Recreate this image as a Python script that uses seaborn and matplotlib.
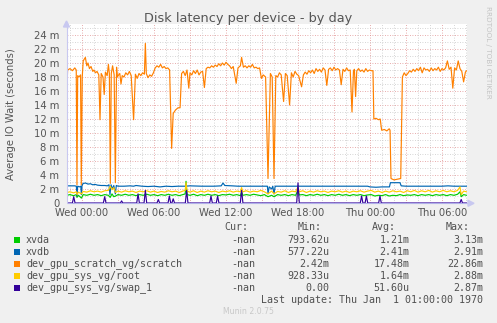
import numpy as np
import pandas as pd
import matplotlib
matplotlib.use("Agg")
import matplotlib.pyplot as plt
from matplotlib.patches import Rectangle
import seaborn as sns

# ---------------- data (hours relative to Wed 00:00, values in ms) -------------
scratch_t = [-1.25, -1.2, -1.0, -0.8, -0.6, -0.48, -0.42, -0.36, -0.25, -0.12, -0.06, 0.02, 0.1, 0.28, 0.4,
             0.5, 0.62, 0.75, 0.9, 1.0, 1.12, 1.25, 1.4, 1.5, 1.6, 1.75, 1.85, 1.95, 2.1, 2.2, 2.28, 2.36,
             2.44, 2.55, 2.68, 2.78, 2.88, 2.95, 3.05, 3.15, 3.25, 3.35, 3.5, 3.65, 3.8, 3.95, 4.1, 4.3,
             4.45, 4.6, 4.75, 4.9, 5.05, 5.2, 5.28, 5.36, 5.5, 5.65, 5.8, 5.95, 6.1, 6.25, 6.4, 6.55,
             6.7, 6.85, 7.0, 7.15, 7.3, 7.47, 7.6, 7.8, 8.0, 8.17, 8.3, 8.45, 8.6, 8.75, 8.9, 9.0, 9.15,
             9.3, 9.45, 9.6, 9.75, 9.9, 10.05, 10.2, 10.35, 10.5, 10.65, 10.8, 10.95, 11.1, 11.25, 11.4,
             11.55, 11.7, 11.85, 12.0, 12.15, 12.3, 12.45, 12.6, 12.85, 13.0, 13.2, 13.3, 13.45, 13.6,
             13.75, 13.9, 14.05, 14.2, 14.35, 14.5, 14.65, 14.8, 14.95, 15.1, 15.3, 15.5, 15.7, 15.85,
             16.0, 16.15, 16.3, 16.45, 16.6, 16.8, 16.95, 17.1, 17.3, 17.45, 17.6, 17.75, 17.9, 18.05,
             18.3, 18.45, 18.6, 18.75, 18.9, 19.05, 19.2, 19.35, 19.5, 19.65, 19.8, 19.95, 20.1, 20.25,
             20.4, 20.55, 20.7, 20.85, 21.0, 21.15, 21.3, 21.45, 21.6, 21.75, 21.9, 22.05, 22.2, 22.35,
             22.5, 22.62, 22.7, 22.8, 22.9, 23.05, 23.2, 23.35, 23.5, 23.65, 23.8, 23.95, 24.1, 24.25,
             24.32, 24.5, 24.7, 24.85, 24.97, 25.2, 25.4, 25.6, 25.67, 25.75, 26.0, 26.3, 26.56, 26.7,
             26.85, 27.0, 27.15, 27.3, 27.45, 27.6, 27.75, 27.9, 28.05, 28.2, 28.35, 28.5, 28.65, 28.8,
             28.95, 29.1, 29.25, 29.4, 29.55, 29.7, 29.85, 30.0, 30.15, 30.3, 30.45, 30.6, 30.75, 30.9,
             31.05, 31.2, 31.35, 31.5, 31.65, 31.8, 31.95, 32.05]
scratch_v = [16.5, 19.0, 19.2, 18.9, 19.3, 19.0, 2.6, 18.2, 18.0, 18.3, 2.6, 18.0, 20.3, 20.8, 19.6,
             20.0, 19.2, 19.5, 18.8, 19.0, 18.6, 18.8, 18.3, 11.9, 18.5, 18.0, 15.5, 18.7, 18.2, 19.8, 18.5, 2.8,
             18.5, 19.6, 18.3, 2.9, 19.4, 18.0, 18.3, 18.5, 17.0, 18.2, 18.0, 18.6, 18.3, 18.8, 18.2, 11.9,
             18.4, 17.8, 18.5, 18.2, 18.6, 18.4, 22.8, 18.5, 17.9, 18.3, 18.1, 18.6, 19.3, 19.6, 19.4, 19.8,
             19.3, 19.5, 19.2, 19.3, 19.0, 7.8, 12.8, 13.3, 13.6, 13.6, 18.5, 18.8, 18.2, 19.0, 16.4, 18.6, 18.3,
             18.9, 18.5, 19.0, 18.3, 18.7, 18.8, 16.5, 19.2, 19.4, 19.3, 19.6, 19.4, 19.7, 19.5, 19.9,
             19.6, 20.0, 19.7, 20.1, 19.8, 19.6, 19.2, 19.5, 17.1, 19.3, 19.6, 20.8, 19.4, 19.6,
             19.3, 19.6, 19.4, 19.8, 19.3, 19.4, 19.2, 19.3, 17.8, 18.3, 18.0, 3.5, 18.5, 18.0,
             3.5, 18.2, 18.0, 18.6, 18.3, 14.5, 18.5, 18.2, 14.0, 18.6, 18.0, 18.8, 18.4, 18.2,
             16.6, 18.3, 18.7, 18.4, 18.9, 18.6, 19.0, 18.5, 19.2, 18.8, 19.1, 18.7, 19.3, 19.0,
             16.8, 19.1, 19.3, 18.9, 19.4, 19.0, 19.2, 19.0, 16.9, 19.1, 18.8, 19.3, 18.9, 19.0,
             13.0, 18.8, 19.1, 15.2, 18.9, 19.2, 18.8, 19.0, 18.7, 19.2, 18.8, 19.0, 18.9, 18.9,
             12.0, 12.1, 11.9, 12.0, 10.4, 10.5, 10.3, 10.6, 10.4, 3.5, 3.3, 3.4, 3.5, 18.0,
             18.6, 18.2, 18.5, 18.9, 18.7, 19.1, 18.8, 19.2, 18.9, 19.4, 18.6, 19.3, 19.0, 19.1,
             18.8, 19.3, 18.9, 19.2, 19.0, 19.4, 18.8, 19.2, 19.0, 19.3, 20.3, 19.1, 19.4, 16.4,
             19.3, 19.0, 20.3, 19.2, 18.8, 17.3, 18.7, 18.9]

xvdb_t = [-1.25, -0.9, -0.6, -0.47, -0.42, -0.36, -0.2, -0.1, -0.05, 0.0, 0.1, 0.3, 0.5, 0.7, 0.9, 1.1,
          1.3, 1.6, 1.9, 2.1, 2.25, 2.33, 2.42, 2.55, 2.65, 2.78, 2.86, 3.0, 3.5, 4.0, 4.3, 4.5, 5.0,
          5.5, 6.0, 6.5, 7.0, 7.5, 8.0, 8.6, 9.0, 10.0, 11.0, 11.6, 11.75, 11.9, 12.5, 13.0, 14.0,
          15.0, 15.45, 15.5, 15.6, 15.8, 15.9, 16.0, 16.1, 17.0, 18.0, 19.0, 20.0, 21.0, 22.0, 23.0,
          23.8, 24.0, 24.5, 25.0, 25.5, 25.62, 25.7, 26.5, 26.6, 27.0, 28.0, 29.0, 30.0, 30.5, 31.0, 32.05]
xvdb_v = [2.45, 2.45, 2.45, 2.4, 1.0, 2.4, 2.3, 2.4, 1.2, 2.5, 2.8, 2.85, 2.7, 2.75, 2.6, 2.65,
          2.55, 2.5, 2.5, 2.45, 2.6, 1.2, 2.6, 2.0, 2.5, 1.3, 2.5, 2.4, 2.4, 2.45, 2.4, 2.5, 2.4,
          2.35, 2.4, 2.3, 2.4, 2.35, 2.4, 2.4, 2.45, 2.4, 2.4, 2.45, 2.85, 2.5, 2.45, 2.4, 2.4,
          2.4, 2.4, 1.3, 2.3, 2.0, 2.4, 1.3, 2.4, 2.4, 2.4, 2.4, 2.4, 2.4, 2.4, 2.4,
          2.4, 2.3, 2.25, 2.3, 2.3, 2.3, 2.9, 2.9, 2.45, 2.4, 2.4, 2.4, 2.4, 2.45, 2.4, 2.4]

xvda_t = [-1.25, -1.0, -0.7, -0.47, -0.42, -0.3, -0.05, 0.1, 0.4, 0.7, 1.0, 1.3, 1.6, 1.9, 2.2, 2.35,
          2.5, 2.65, 2.8, 3.0, 3.3, 3.6, 3.9, 4.2, 4.5, 4.8, 5.1, 5.4, 5.7, 6.0, 6.3, 6.6, 6.9, 7.2,
          7.5, 7.8, 8.1, 8.4, 8.6, 8.67, 8.75, 9.0, 9.3, 9.6, 9.9, 10.2, 10.5, 10.8, 11.1, 11.4, 11.7,
          12.0, 12.3, 12.6, 12.9, 13.2, 13.3, 13.4, 13.7, 14.0, 14.3, 14.6, 14.9, 15.2, 15.5, 15.8,
          16.0, 16.3, 16.6, 16.9, 17.2, 17.5, 17.8, 18.0, 18.1, 18.4, 18.7, 19.0, 19.3, 19.6, 19.9,
          20.2, 20.5, 20.8, 21.1, 21.4, 21.7, 22.0, 22.3, 22.6, 22.9, 23.2, 23.5, 23.8, 24.1, 24.4,
          24.7, 25.0, 25.3, 25.6, 25.9, 26.2, 26.5, 26.8, 27.1, 27.4, 27.7, 28.0, 28.3, 28.6, 28.9,
          29.2, 29.5, 29.8, 30.1, 30.4, 30.7, 31.0, 31.3, 31.5, 31.6, 31.8, 32.05]
xvda_v = [1.1, 1.2, 1.05, 1.2, 0.8, 1.1, 0.7, 1.2, 1.1, 1.25, 1.1, 1.2, 1.05, 1.2, 1.1, 0.8,
          1.3, 0.9, 1.0, 1.2, 1.1, 1.25, 1.1, 1.2, 1.05, 1.2, 1.1, 1.25, 1.1, 1.2, 1.05, 1.2, 1.1, 1.25,
          1.1, 1.2, 1.05, 1.2, 1.3, 3.1, 1.2, 1.1, 1.25, 1.05, 1.2, 1.1, 1.25, 1.1, 1.2, 1.05, 1.2,
          1.15, 1.25, 1.1, 1.2, 1.05, 1.6, 1.1, 1.2, 1.1, 1.25, 1.15, 1.05, 1.2, 0.9, 1.1,
          0.9, 1.2, 1.1, 1.2, 1.05, 1.2, 1.1, 1.8, 1.15, 1.2, 1.05, 1.2, 1.1, 1.25, 1.1,
          1.2, 1.05, 1.2, 1.1, 1.25, 1.1, 1.2, 1.05, 1.2, 1.1, 1.2, 1.05, 1.15, 1.2, 1.0,
          1.1, 1.05, 1.2, 1.0, 1.1, 1.05, 1.2, 1.05, 1.15, 1.1, 1.2, 1.05, 1.2, 1.1, 1.2,
          1.05, 1.2, 1.1, 1.2, 1.05, 1.2, 1.1, 1.25, 1.6, 0.9, 1.2, 1.1]

root_t = xvda_t
root_v = [1.5, 1.6, 1.45, 1.6, 1.2, 1.55, 1.3, 1.65, 1.55, 1.75, 1.6, 1.7, 1.55, 1.75, 1.8, 2.4,
          1.9, 2.2, 1.5, 1.7, 1.55, 1.75, 1.6, 1.7, 1.5, 1.7, 1.6, 1.75, 1.55, 1.7, 1.5, 1.65, 1.55, 1.75,
          1.6, 1.7, 1.5, 1.7, 1.8, 2.9, 1.7, 1.55, 1.75, 1.5, 1.7, 1.55, 1.75, 1.6, 1.7, 1.5, 1.7,
          1.6, 1.75, 1.55, 1.7, 1.6, 2.2, 1.6, 1.75, 1.55, 1.7, 1.6, 1.8, 1.6, 1.3, 1.7,
          1.3, 1.65, 1.55, 1.75, 1.5, 1.7, 1.6, 2.3, 1.6, 1.75, 1.5, 1.7, 1.55, 1.75, 1.6,
          1.7, 1.5, 1.7, 1.6, 1.75, 1.55, 1.7, 1.5, 1.7, 1.6, 1.75, 1.55, 1.7, 1.8, 1.55,
          1.7, 1.5, 1.7, 1.55, 1.75, 1.6, 1.7, 1.5, 1.75, 1.6, 1.8, 1.55, 1.75, 1.6, 1.8,
          1.55, 1.75, 1.6, 1.8, 1.6, 1.75, 1.6, 1.8, 2.3, 1.2, 1.7, 1.6]

swap_t = [-1.25, -0.8, -0.69, -0.58, 1.78, 1.89, 2.0, 3.2, 3.3, 3.4, 4.56, 4.67, 4.78, 5.17, 5.28, 5.39,
          6.25, 6.36, 6.47, 7.17, 7.28, 7.39, 7.49, 7.6, 7.71, 8.61, 8.72, 8.83, 10.64, 10.75, 10.86,
          11.19, 11.3, 11.41, 13.19, 13.3, 13.41, 17.89, 18.0, 18.11, 23.19, 23.3, 23.41, 23.59, 23.7,
          23.81, 24.72, 24.83, 24.94, 31.49, 31.6, 31.71, 32.05]
swap_v = [0, 0, 0.9, 0, 0, 0.9, 0, 0, 0.3, 0, 0, 1.3, 0, 0, 1.8, 0,
          0, 0.5, 0, 0, 1.0, 0, 0, 0.6, 0, 0, 1.8, 0, 0, 1.0, 0,
          0, 1.0, 0, 0, 1.8, 0, 0, 2.87, 0, 0, 1.0, 0, 0, 1.0,
          0, 0, 1.0, 0, 0, 0.5, 0, 0]

series_names = ["xvda", "xvdb", "dev_gpu_scratch_vg/scratch", "dev_gpu_sys_vg/root", "dev_gpu_sys_vg/swap_1"]
series_colors = ["#00CC00", "#0066B3", "#FF8000", "#FFCC00", "#330099"]
cur_vals = ["-nan", "-nan", "-nan", "-nan", "-nan"]
min_vals = ["793.62u", "577.22u", "2.42m", "928.33u", "0.00"]
avg_vals = ["1.21m", "2.41m", "17.48m", "1.64m", "51.60u"]
max_vals = ["3.13m", "2.91m", "22.86m", "2.88m", "2.87m"]

xtick_hours = [0, 6, 12, 18, 24, 30]
xtick_labels = ["Wed 00:00", "Wed 06:00", "Wed 12:00", "Wed 18:00", "Thu 00:00", "Thu 06:00"]
ytick_vals = [0, 2, 4, 6, 8, 10, 12, 14, 16, 18, 20, 22, 24]
ytick_labels = ["0"] + [f"{v} m" for v in ytick_vals[1:]]

# ---------------- figure ------------------------------------------------------
sns.set_style("white")
plt.rcParams["font.family"] = ["DejaVu Sans"]
W, H = 497, 323
fig = plt.figure(figsize=(W / 100, H / 100), dpi=100, facecolor="#F0F0F0")
ax = fig.add_axes([67 / W, (H - 203) / H, 400 / W, 179 / H])
ax.set_facecolor("white")

x0 = -1.25
ax.set_xlim(x0, x0 + 400 / 12)
ax.set_ylim(0, 179 / 7)

# grid
grid_minor = dict(color="#C8C8C8", lw=0.6, ls=(0, (1, 2)), zorder=0)
grid_major = dict(color="#E09090", lw=0.6, ls=(0, (1, 2)), zorder=0)
for v in range(1, 26):
    ax.axhline(v, **(grid_major if v % 2 == 0 else grid_minor))
for h in range(-1, 33):
    ax.axvline(h, **(grid_major if h % 3 == 0 else grid_minor))

order = [(xvda_t, xvda_v, 0), (xvdb_t, xvdb_v, 1), (scratch_t, scratch_v, 2),
         (root_t, root_v, 3), (swap_t, swap_v, 4)]
for t, v, i in order:
    df = pd.DataFrame({"t": t, "v": v})
    sns.lineplot(data=df, x="t", y="v", ax=ax, color=series_colors[i], lw=0.85,
                 estimator=None, sort=False, zorder=3 + i)

for s in ax.spines.values():
    s.set_visible(False)
ax.set_xlabel("")
ax.set_ylabel("")
ax.set_xticks(xtick_hours)
ax.set_xticklabels(xtick_labels)
ax.set_yticks(ytick_vals)
ax.set_yticklabels(ytick_labels)
ax.tick_params(axis="both", labelsize=7.2, labelcolor="#555555", color="#A0A0A0",
               length=2, width=0.6, direction="out")
ax.tick_params(axis="x", pad=1.5)
ax.tick_params(axis="y", pad=3.5)

# axes lines with arrows (figure coordinates in pixels)
def fx(px):
    return px / W

def fy(py):
    return 1 - py / H

fig.add_artist(plt.Line2D([fx(66.5), fx(66.5)], [fy(203), fy(26)], color="#C8C8F0", lw=0.8))
fig.add_artist(plt.Line2D([fx(66.5), fx(470)], [fy(203.3), fy(203.3)], color="#B0B0E8", lw=0.8, zorder=1))
fig.add_artist(plt.Polygon([[fx(63.5), fy(27)], [fx(69.5), fy(27)], [fx(66.5), fy(21)]],
                           closed=True, color="#C8C8F0"))
fig.add_artist(plt.Polygon([[fx(468), fy(200.3)], [fx(468), fy(206.3)], [fx(474), fy(203.3)]],
                           closed=True, color="#C8C8F0"))

# texts
fig.text(fx(248), fy(18.5), "Disk latency per device - by day", ha="center", va="center",
         fontsize=9.3, color="#555555")
fig.text(fx(11), fy(114), "Average IO Wait (seconds)", ha="center", va="center",
         rotation=90, fontsize=7.2, color="#555555")
fig.text(fx(488), fy(6), "RRDTOOL / TOBI OETIKER", ha="center", va="top", rotation=270,
         fontsize=5.2, color="#C4C4C4")

mono = "DejaVu Sans Mono"
tc = "#505050"
fig.text(fx(248), fy(227.5), "Cur:", ha="right", va="center", family=mono, fontsize=7.2, color=tc)
fig.text(fx(322), fy(227.5), "Min:", ha="right", va="center", family=mono, fontsize=7.2, color=tc)
fig.text(fx(396), fy(227.5), "Avg:", ha="right", va="center", family=mono, fontsize=7.2, color=tc)
fig.text(fx(470), fy(227.5), "Max:", ha="right", va="center", family=mono, fontsize=7.2, color=tc)
rows_y = [240, 252, 263.7, 275.7, 287.7]
for i, ry in enumerate(rows_y):
    fig.add_artist(Rectangle((fx(14), fy(ry + 3)), 6 / W, 6 / H, transform=fig.transFigure,
                             facecolor=series_colors[i], edgecolor="none"))
    fig.text(fx(26), fy(ry), series_names[i], ha="left", va="center", family=mono, fontsize=7.2, color=tc)
    fig.text(fx(255), fy(ry), cur_vals[i], ha="right", va="center", family=mono, fontsize=7.2, color=tc)
    fig.text(fx(329), fy(ry), min_vals[i], ha="right", va="center", family=mono, fontsize=7.2, color=tc)
    fig.text(fx(409.5), fy(ry), avg_vals[i], ha="right", va="center", family=mono, fontsize=7.2, color=tc)
    fig.text(fx(483), fy(ry), max_vals[i], ha="right", va="center", family=mono, fontsize=7.2, color=tc)
fig.text(fx(483), fy(299.7), "Last update: Thu Jan  1 01:00:00 1970", ha="right", va="center",
         family=mono, fontsize=7.2, color=tc)
fig.text(fx(248), fy(311), "Munin 2.0.75", ha="center", va="center", fontsize=5.6, color="#C8C8C8")

fig.savefig("out.png", dpi=100, facecolor=fig.get_facecolor())
